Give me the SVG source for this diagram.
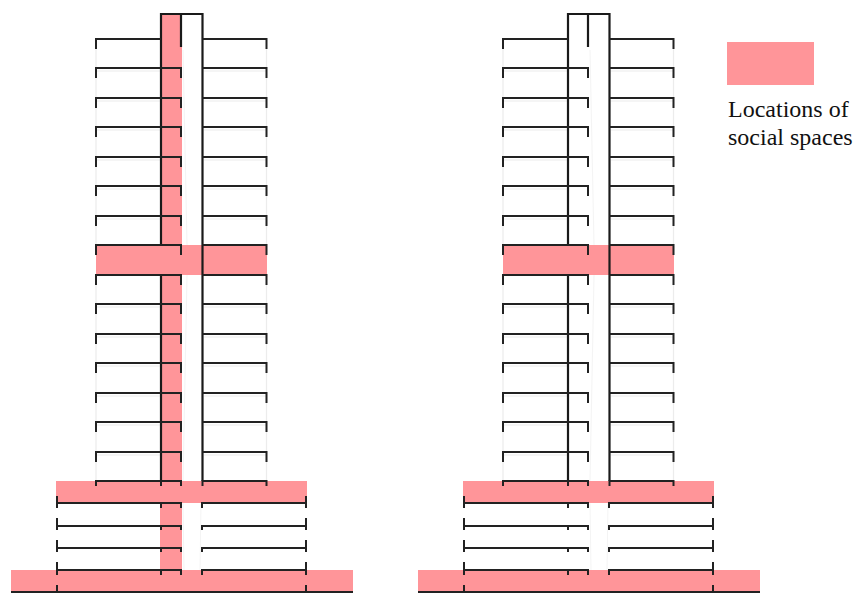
<svg xmlns="http://www.w3.org/2000/svg" width="854" height="593" viewBox="0 0 854 593">
<style>
.pink{fill:#ff9599}
.floor{fill:none;stroke:#222;stroke-width:2}
.core{fill:none;stroke:#1a1a1a;stroke-width:2.2}
.faint{fill:none;stroke:#ececec;stroke-width:1.2}
.fainter{fill:none;stroke:#f4f4f4;stroke-width:1}
.lbl{font-family:"Liberation Serif","Times New Roman",serif;font-size:24px;fill:#111}
</style>
<defs>
<g id="lines">
<path class="fainter" d="M183 50L187 245M187 275L183 481M183 503L184 570M201 503L200 570"/>
<path class="faint" d="M96 49V245M96 285V481M266.500 49V245M266.500 285V481M96 71H161M96 101H161M96 130H161M96 160H161M96 189H161M96 219H161M96 307H161M96 337H161M96 366H161M96 396H161M96 425H161M96 455H161M204 71H266M204 101H266M204 130H266M204 160H266M204 189H266M204 219H266M204 307H266M204 337H266M204 366H266M204 396H266M204 425H266M204 455H266"/>
<path class="core" d="M161 481V275M161 245V14H202.500V481M181 14V47"/>
<path class="floor" d="M96 49V39H161M202.500 39H266.500V49
M96 78V68H181V78M202.500 68H266.500V78
M96 108V98H181V108M202.500 98H266.500V108
M96 137V127H181V137M202.500 127H266.500V137
M96 167V157H181V167M202.500 157H266.500V167
M96 196V186H181V196M202.500 186H266.500V196
M96 226V216H181V226M202.500 216H266.500V226
M96 255V245H181V255M202.500 245H266.500V255
M96 285V275H181V285M202.500 275H266.500V285
M96 314V304H181V314M202.500 304H266.500V314
M96 344V334H181V344M202.500 334H266.500V344
M96 373V363H181V373M202.500 363H266.500V373
M96 403V393H181V403M202.500 393H266.500V403
M96 432V422H181V432M202.500 422H266.500V432
M96 462V452H181V462M202.500 452H266.500V462
M96 486V481H181V486M161 481V486M202.500 486V481H266.500V486
M57 496V508M57 503H181V508M161 503V508M202 508V503H306M306 496V508
M57 518V530M57 526H181V530M161 526V530M202 530V526H306M306 518V530
M57 540V552M57 548H181V552M161 548V552M202 552V548H306M306 540V552
M57 562V575M57 570H181V575M161 570V575M202 575V570H306M306 562V575
M57 585V592M306 585V592M11 592H353"/>
</g>
</defs>
<g id="left-tower">
<rect class="pink" x="160" y="14" width="22" height="556"/>
<rect class="pink" x="96" y="245" width="171" height="30"/>
<rect class="pink" x="56" y="481" width="251" height="22"/>
<rect class="pink" x="11" y="570" width="342" height="22"/>
<use href="#lines"/>
</g>
<g id="right-tower">
<rect class="pink" x="503" y="245" width="171" height="30"/>
<rect class="pink" x="463" y="481" width="251" height="22"/>
<rect class="pink" x="418" y="570" width="342" height="22"/>
<use href="#lines" x="407"/>
</g>
<g id="legend">
<rect class="pink" x="727" y="42" width="87" height="43"/>
<text class="lbl" x="728" y="117">Locations of</text>
<text class="lbl" x="728" y="145">social spaces</text>
</g>
</svg>
